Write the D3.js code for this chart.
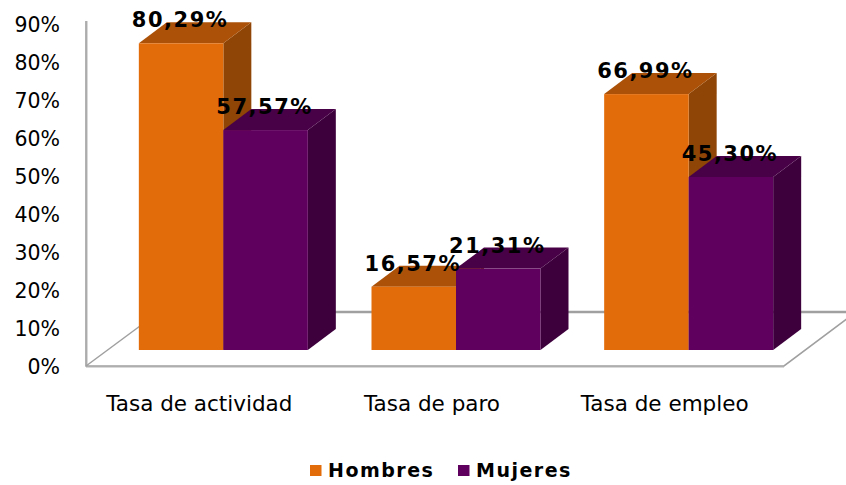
<!DOCTYPE html>
<html>
<head>
<meta charset="utf-8">
<script src="https://cdn.jsdelivr.net/npm/d3@7"></script>
<style>
  html, body { margin: 0; background: #fff; }
  text { font-family: "DejaVu Sans", Verdana, sans-serif; fill: #000; }
</style>
</head>
<body>
<main></main>
<script>
let categories = ['Tasa de actividad', 'Tasa de paro', 'Tasa de empleo']
let seriesNames = ['Hombres', 'Mujeres']
let hombres = [80.29, 16.57, 66.99]
let mujeres = [57.57, 21.31, 45.30]
let yTicks = [0, 10, 20, 30, 40, 50, 60, 70, 80, 90]

let front = {Hombres: '#e36c0a', Mujeres: '#60005e'}
let top3d = {Hombres: '#ab5208', Mujeres: '#480046'}
let side = {Hombres: '#8f4506', Mujeres: '#3d003c'}

let width = 846
let height = 485
let depthX = 28
let depthY = 21

let rows = categories.map((c, i) => [
  {category: c, series: 'Hombres', value: hombres[i]},
  {category: c, series: 'Mujeres', value: mujeres[i]},
])

let fmt = v => v.toFixed(2).replace('.', ',') + '%'

let svg = d3.select('main')
  .append('svg')
  .attr('width', width)
  .attr('height', height)
  .style('display', 'block')

let x = d3.scaleBand()
          .domain(categories)
          .range([107, 805])

let x1 = d3.scaleBand()
           .domain(seriesNames)
           .range([x.bandwidth() / 2 - 84.5, x.bandwidth() / 2 + 84.5])

// bars stand on the floor, slightly behind the front edge
let y = d3.scaleLinear()
          .domain([0, 90])
          .range([350, 350 - 90 * 3.82])

// the axis labels sit on the front edge of the wall
let yAxis = d3.scaleLinear()
              .domain([0, 90])
              .range([367, 25])

// Walls and floor
let frame = svg.append('g').attr('fill', 'none')

frame.append('path')
  .attr('d', 'M87,21V367H784')
  .attr('stroke', '#d9d9d9')
  .attr('stroke-width', 2)
frame.append('path')
  .attr('d', 'M86,21V366H784L848,318')
  .attr('stroke', '#a0a0a0')
  .attr('stroke-width', 1.6)
frame.append('path')
  .attr('d', 'M86,366L140,326')
  .attr('stroke', '#a0a0a0')
  .attr('stroke-width', 1.5)
frame.append('path')
  .attr('d', 'M310,312H848')
  .attr('stroke', '#a0a0a0')
  .attr('stroke-width', 2.4)

// Axis
svg.append('g')
   .attr('transform', 'translate(60, 0)')
   .call(d3.axisLeft(yAxis).tickValues(yTicks).tickSize(0).tickPadding(0).tickFormat(d => d + '%'))
   .call(g => g.select('.domain').remove())
   .selectAll('text')
   .style('font-size', '20.5px')

svg.append('g')
   .selectAll('text')
   .data(categories)
   .enter()
   .append('text')
   .attr('x', c => x(c) + x.bandwidth() / 2 - 24)
   .attr('y', 411)
   .attr('text-anchor', 'middle')
   .style('font-size', '21.5px')
   .text(c => c)

// Bars
let groups = svg.append('g')
  .selectAll('g')
  .data(rows)
  .enter()
  .append('g')
  .attr('transform', d => `translate(${x(d[0].category)}, 0)`)

let bars = groups.selectAll('g')
  .data(d => d)
  .enter()
  .append('g')

// side face
bars.append('path')
  .attr('fill', d => side[d.series])
  .attr('d', d => {
    let r = x1(d.series) + x1.bandwidth()
    return `M${r},${y(d.value)}l${depthX},${-depthY}V${y(0) - depthY}l${-depthX},${depthY}Z`
  })

// top face
bars.append('path')
  .attr('fill', d => top3d[d.series])
  .attr('d', d => {
    let l = x1(d.series)
    return `M${l},${y(d.value)}l${depthX},${-depthY}h${x1.bandwidth()}l${-depthX},${depthY}Z`
  })

// front face
bars.append('rect')
  .attr('x', d => x1(d.series))
  .attr('y', d => y(d.value))
  .attr('width', x1.bandwidth())
  .attr('height', d => y(0) - y(d.value))
  .attr('fill', d => front[d.series])

// Labels go last so they stay over every bar
svg.append('g')
   .selectAll('text')
   .data(rows.flat())
   .enter()
   .append('text')
   .attr('x', d => x(d.category) + x1(d.series) + x1.bandwidth() / 2 - 1)
   .attr('y', d => y(d.value) - 16)
   .attr('text-anchor', 'middle')
   .style('font-size', '21px')
   .style('font-weight', 'bold')
   .style('letter-spacing', '1.5px')
   .text(d => fmt(d.value))

// Legend
let legendX = d3.scaleOrdinal().domain(seriesNames).range([310, 458])

let legend = svg.append('g')
  .selectAll('g')
  .data(seriesNames)
  .enter()
  .append('g')
  .attr('transform', s => `translate(${legendX(s)}, 465)`)

legend.append('rect')
  .attr('width', 11.5)
  .attr('height', 11)
  .attr('fill', s => front[s])

legend.append('text')
  .attr('x', 18)
  .attr('y', 12)
  .style('font-size', '19px')
  .style('font-weight', 'bold')
  .style('letter-spacing', '1.5px')
  .text(s => s)
</script>
</body>
</html>
